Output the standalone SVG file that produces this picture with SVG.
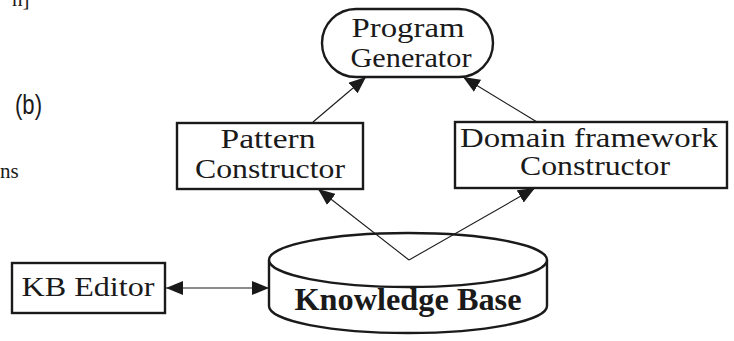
<svg xmlns="http://www.w3.org/2000/svg" width="734" height="341" viewBox="0 0 734 341">
  <style>
    .box { fill: #fff; stroke: #1a1a1a; stroke-width: 2.4; }
    .lbl { font-family: "Liberation Serif", "Times New Roman", serif; font-size: 28px; fill: #1a1a1a; text-anchor: middle; }
    .kb { font-family: "Liberation Serif", "Times New Roman", serif; font-size: 31px; font-weight: bold; fill: #1a1a1a; text-anchor: middle; }
    .edge { stroke: #1a1a1a; stroke-width: 1.1; fill: none; }
    .side { font-family: "Liberation Serif", "Times New Roman", serif; font-size: 21px; fill: #1a1a1a; }
  </style>
  <defs>
    <marker id="tip" markerUnits="userSpaceOnUse" markerWidth="18" markerHeight="14" refX="17" refY="7" orient="auto">
      <path d="M0,0 L17,7 L0,14 Z" fill="#1a1a1a"/>
    </marker>
    <marker id="tail" markerUnits="userSpaceOnUse" markerWidth="18" markerHeight="14" refX="0" refY="7" orient="auto">
      <path d="M17,0 L0,7 L17,14 Z" fill="#1a1a1a"/>
    </marker>
  </defs>
  <rect width="734" height="341" fill="#fff"/>

  <!-- fragments of the neighbouring text -->
  <text class="side" x="12" y="6">n]</text>
  <text x="0" y="0" transform="translate(15,114) scale(0.82,1)" style="font-family:'Liberation Sans','Arial',sans-serif;font-size:27px;fill:#1a1a1a">(b)</text>
  <text class="side" x="0" y="178">ns</text>

  <g id="program-generator">
    <rect class="box" x="322" y="9" width="171" height="68" rx="34" ry="34"/>
    <text class="lbl" x="408" y="37" textLength="113" lengthAdjust="spacingAndGlyphs">Program</text>
    <text class="lbl" x="411" y="67" textLength="121" lengthAdjust="spacingAndGlyphs">Generator</text>
  </g>

  <g id="pattern-constructor">
    <rect class="box" x="177" y="123" width="186" height="66"/>
    <text class="lbl" x="268" y="148" textLength="95" lengthAdjust="spacingAndGlyphs">Pattern</text>
    <text class="lbl" x="270" y="178" textLength="150" lengthAdjust="spacingAndGlyphs">Constructor</text>
  </g>

  <g id="domain-framework-constructor">
    <rect class="box" x="455" y="122" width="272" height="66"/>
    <text class="lbl" x="589" y="147" textLength="258" lengthAdjust="spacingAndGlyphs">Domain framework</text>
    <text class="lbl" x="595" y="175" textLength="150" lengthAdjust="spacingAndGlyphs">Constructor</text>
  </g>

  <g id="kb-editor">
    <rect class="box" x="12" y="263" width="153" height="50"/>
    <text class="lbl" x="88" y="296" textLength="133" lengthAdjust="spacingAndGlyphs">KB Editor</text>
  </g>

  <g id="knowledge-base">
    <path class="box" d="M269,260 L269,306 A139,27 0 0 0 547,306 L547,260"/>
    <ellipse class="box" cx="408" cy="260" rx="139" ry="27"/>
    <text class="kb" x="408" y="310" textLength="227" lengthAdjust="spacingAndGlyphs">Knowledge Base</text>
  </g>

  <g id="connectors">
    <line class="edge" x1="313" y1="122" x2="366" y2="77" marker-end="url(#tip)"/>
    <line class="edge" x1="537" y1="122" x2="463" y2="77" marker-end="url(#tip)"/>
    <line class="edge" x1="409" y1="260" x2="318" y2="189" marker-end="url(#tip)"/>
    <line class="edge" x1="409" y1="260" x2="535" y2="188" marker-end="url(#tip)"/>
    <line class="edge" x1="166" y1="288" x2="269" y2="288" marker-start="url(#tail)" marker-end="url(#tip)"/>
  </g>
</svg>
